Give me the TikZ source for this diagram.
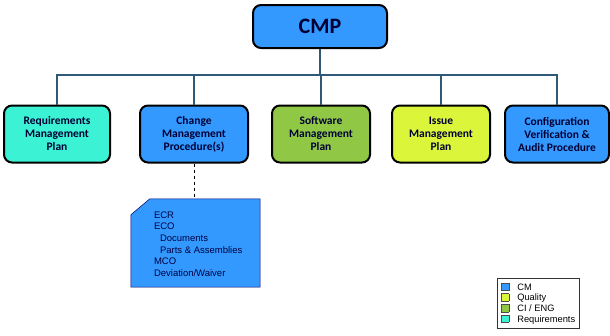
\documentclass[tikz,border=0pt]{standalone}
\usepackage{fontspec}
\setmainfont{Carlito}
\newfontfamily\arialfont{Liberation Sans}
\usetikzlibrary{positioning}

\definecolor{cmblue}{HTML}{3399FF}
\definecolor{reqcyan}{HTML}{3CF2D4}
\definecolor{engreen}{HTML}{90C845}
\definecolor{qualyellow}{HTML}{DAF53A}
\definecolor{busline}{HTML}{2E5A78}

\tikzset{
  planbox/.style={draw=black, line width=2pt, rounded corners=8pt, align=center,
    minimum height=57pt, inner sep=2pt, font=\fontsize{11.5}{13}\selectfont\bfseries, text=black!80!blue},
  bus/.style={draw=busline, line width=1.4pt}
}
\newcommand{\legsq}[1]{{\setlength{\fboxsep}{0pt}\setlength{\fboxrule}{0.5pt}\fcolorbox{black!70}{#1}{\rule{0pt}{7pt}\rule{7pt}{0pt}}}}

\begin{document}
\begin{tikzpicture}[x=1pt,y=-1pt]
\useasboundingbox (0,0) rectangle (610,335);

\node[planbox, fill=cmblue, minimum width=134pt, minimum height=43pt,
  font=\fontsize{22}{24}\selectfont\bfseries] (cmp) at (320,26.5) {CMP};

\node[planbox, fill=reqcyan, minimum width=106pt] (req) at (57,134) {Requirements\\Management\\Plan};
\node[planbox, fill=cmblue, minimum width=108pt] (cm) at (194,134) {Change\\Management\\Procedure(s)};
\node[planbox, fill=engreen, minimum width=98pt] (sw) at (321,134) {Software\\Management\\Plan};
\node[planbox, fill=qualyellow, minimum width=98pt] (iss) at (441,134) {Issue\\Management\\Plan};
\node[planbox, fill=cmblue, minimum width=104pt] (cav) at (557,134) {Configuration\\Verification \&\\Audit Procedure};

\coordinate (tee) at (320,75);
\draw[bus] (cmp.south) -- (tee);
\draw[bus] (req.north) -- (req.north |- tee) -- (cav.north |- tee) -- (cav.north);
\draw[bus] (cm.north) -- (cm.north |- tee);
\draw[bus] (sw.north) -- (sw.north |- tee);
\draw[bus] (iss.north) -- (iss.north |- tee);

% change documents
\node[minimum width=129pt, minimum height=88pt] (docs) at (195.5,243) {};
\fill[cmblue, draw=blue!40!black, line width=0.5pt] ([yshift=-16pt]docs.north west) -- ([xshift=19pt]docs.north west)
  -- (docs.north east) -- (docs.south east) -- (docs.south west) -- cycle;
\node[inner sep=0pt, anchor=west, align=left,
  font=\arialfont\fontsize{9.5}{11.6}\selectfont, text=black!75!blue] (doclist) at ([xshift=23pt,yshift=-1pt]docs.west)
  {ECR\\ECO\\\hspace*{6pt}Documents\\\hspace*{6pt}Parts \& Assemblies\\MCO\\Deviation/Waiver};
\draw[dashed, line width=0.6pt] (cm.south) -- (cm.south |- docs.north);

% legend
\node[draw=black!80, line width=0.6pt, align=left, inner xsep=4pt, inner ysep=4.5pt, anchor=north west,
  font=\arialfont\fontsize{9.3}{10.6}\selectfont] (legend) at (497,278)
  {\legsq{cmblue}\hspace{8pt}CM\\\legsq{qualyellow}\hspace{8pt}Quality\\\legsq{engreen}\hspace{8pt}CI / ENG\\\legsq{reqcyan}\hspace{8pt}Requirements};

\end{tikzpicture}
\end{document}
